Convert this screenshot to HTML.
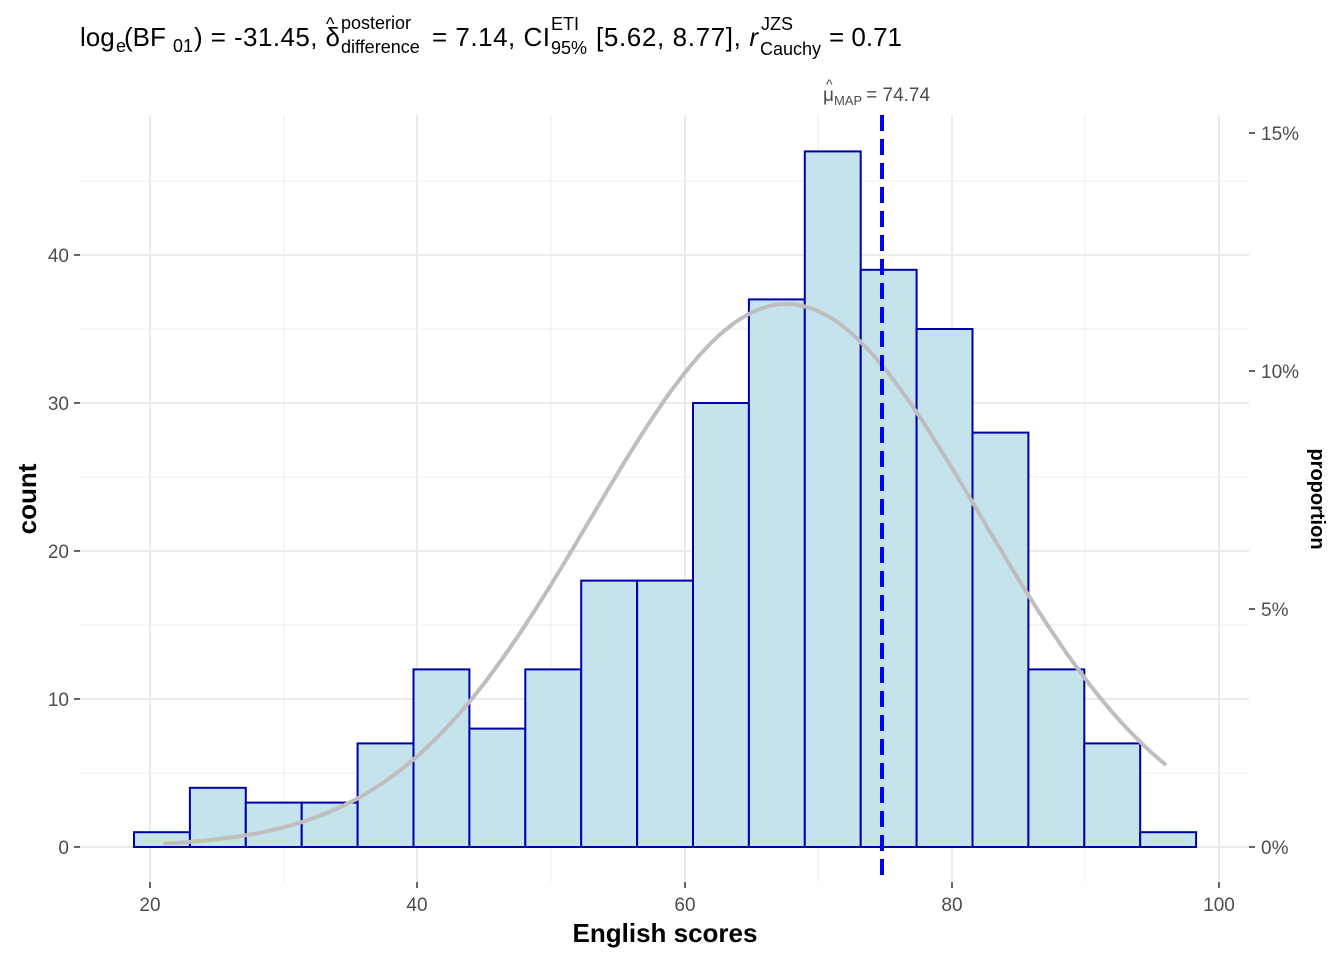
<!DOCTYPE html>
<html><head><meta charset="utf-8"><style>
body{margin:0;background:#fff}
svg{font-family:"Liberation Sans",Arial,sans-serif}
</style></head><body>
<svg id="s" width="1344" height="960" viewBox="0 0 1344 960" xmlns="http://www.w3.org/2000/svg">
<rect width="1344" height="960" fill="#fff"/>
<g stroke="#ebebeb" stroke-width="1">
<line x1="284" y1="115" x2="284" y2="882"/><line x1="551" y1="115" x2="551" y2="882"/><line x1="818" y1="115" x2="818" y2="882"/><line x1="1085" y1="115" x2="1085" y2="882"/>
<line x1="80" y1="181" x2="1249" y2="181"/><line x1="80" y1="329" x2="1249" y2="329"/><line x1="80" y1="477" x2="1249" y2="477"/><line x1="80" y1="625" x2="1249" y2="625"/><line x1="80" y1="773" x2="1249" y2="773"/>
</g>
<g stroke="#ebebeb" stroke-width="2">
<line x1="150" y1="115" x2="150" y2="882"/><line x1="417" y1="115" x2="417" y2="882"/><line x1="685" y1="115" x2="685" y2="882"/><line x1="952" y1="115" x2="952" y2="882"/><line x1="1219" y1="115" x2="1219" y2="882"/>
<line x1="80" y1="255" x2="1249" y2="255"/><line x1="80" y1="403" x2="1249" y2="403"/><line x1="80" y1="551" x2="1249" y2="551"/><line x1="80" y1="699" x2="1249" y2="699"/><line x1="80" y1="847" x2="1249" y2="847"/>
</g>
<g id="bars" fill="#c5e3ed" stroke="#0000a8" stroke-width="2"></g>
<path id="curve" fill="none" stroke="#bebebe" stroke-width="4"/>
<line x1="882" y1="115" x2="882" y2="882" stroke="#0000ff" stroke-width="4" stroke-dasharray="16,8"/>
<g font-size="19" fill="#4d4d4d" text-anchor="end">
<text x="69" y="262">40</text><text x="69" y="410">30</text><text x="69" y="558">20</text><text x="69" y="706">10</text><text x="69" y="854">0</text>
</g>
<g stroke="#333" stroke-width="1.5">
<line x1="74" y1="255" x2="80" y2="255"/><line x1="74" y1="403" x2="80" y2="403"/><line x1="74" y1="551" x2="80" y2="551"/><line x1="74" y1="699" x2="80" y2="699"/><line x1="74" y1="847" x2="80" y2="847"/>
<line x1="150" y1="882" x2="150" y2="888"/><line x1="417" y1="882" x2="417" y2="888"/><line x1="685" y1="882" x2="685" y2="888"/><line x1="952" y1="882" x2="952" y2="888"/><line x1="1219" y1="882" x2="1219" y2="888"/>
<line x1="1249" y1="133" x2="1255" y2="133"/><line x1="1249" y1="371" x2="1255" y2="371"/><line x1="1249" y1="609" x2="1255" y2="609"/><line x1="1249" y1="847" x2="1255" y2="847"/>
</g>
<g font-size="19" fill="#4d4d4d">
<text x="1261" y="140">15%</text><text x="1261" y="378">10%</text><text x="1261" y="616">5%</text><text x="1261" y="854">0%</text>
</g>
<g font-size="19" fill="#4d4d4d" text-anchor="middle">
<text x="150" y="911">20</text><text x="417" y="911">40</text><text x="685" y="911">60</text><text x="952" y="911">80</text><text x="1219" y="911">100</text>
</g>
<text x="665" y="942" font-size="26" font-weight="bold" text-anchor="middle">English scores</text>
<text transform="translate(36,499) rotate(-90)" font-size="26" font-weight="bold" text-anchor="middle">count</text>
<text transform="translate(1311,499) rotate(90)" font-size="20" font-weight="bold" text-anchor="middle">proportion</text>
<text x="823" y="101" font-size="19" fill="#4d4d4d">μ<tspan font-size="13" dy="4">MAP</tspan><tspan dy="-4" dx="4">= 74.74</tspan></text>
<text x="826" y="89" font-size="14" fill="#4d4d4d">^</text>
<g font-size="26" fill="#000">
<text x="80" y="46">log</text>
<text x="116" y="52" font-size="18">e</text>
<text x="124" y="46">(BF</text>
<text x="173" y="52" font-size="18">01</text>
<text x="194" y="46" textLength="146" lengthAdjust="spacing">) = -31.45, δ</text>
<text x="341" y="29" font-size="18">posterior</text>
<text x="341" y="53" font-size="18">difference</text>
<text x="432" y="46" textLength="118" lengthAdjust="spacing">= 7.14, CI</text>
<text x="551" y="30" font-size="18">ETI</text>
<text x="551" y="54" font-size="18">95%</text>
<text x="596" y="46" textLength="162" lengthAdjust="spacing">[5.62, 8.77], <tspan font-style="italic">r</tspan></text>
<text x="761" y="30" font-size="18">JZS</text>
<text x="760" y="55" font-size="18">Cauchy</text>
<text x="829" y="46" textLength="73" lengthAdjust="spacing">= 0.71</text>
<text x="326" y="30" font-size="18">^</text>
</g>
</svg>
<script>
var c=[1,4,3,3,7,12,8,12,18,18,30,37,47,39,35,28,12,7,1],g=document.getElementById('bars'),h='';
for(var i=0;i<c.length;i++){var x=134+i*55.9,y=847-c[i]*14.8;h+='<rect x="'+x.toFixed(1)+'" y="'+y.toFixed(1)+'" width="55.9" height="'+(c[i]*14.8).toFixed(1)+'"/>';}
g.innerHTML=h;
var d='';for(var v=21;v<=96.3;v+=0.5){var z=(v-67.6)/14.6,px=150+(v-20)*13.37,py=847-543*Math.exp(-z*z/2);d+=(d?'L':'M')+px.toFixed(1)+','+py.toFixed(1);}
document.getElementById('curve').setAttribute('d',d);
</script>
</body></html>
